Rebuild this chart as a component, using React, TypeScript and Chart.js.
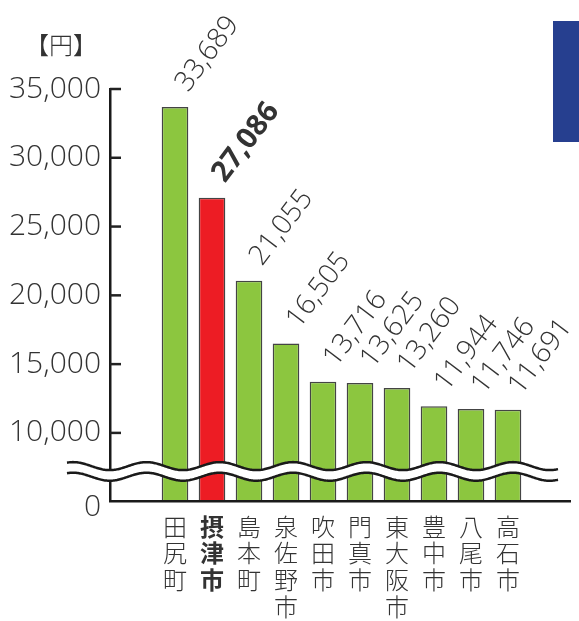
import React, { useEffect, useRef } from 'react';
import { Chart, registerables } from 'chart.js';

Chart.register(...registerables);

const categories = ['田尻町', '摂津市', '島本町', '泉佐野市', '吹田市', '門真市', '東大阪市', '豊中市', '八尾市', '高石市'];
const values = [33689, 27086, 21055, 16505, 13716, 13625, 13260, 11944, 11746, 11691];
const highlightIndex = 1;
const yAxisMin = 5050;
const yTickValues = [4580, 10000, 15000, 20000, 25000, 30000, 35000];
const yTickLabels = ['0', '10,000', '15,000', '20,000', '25,000', '30,000', '35,000'];
const unitLabel = '【円】';
const breakValue = 7200;

const GREEN = '#8cc63f';
const RED = '#ed1c24';
const TEXT = '#333333';
const LATIN = "'Open Sans', 'Noto Sans', 'Noto Sans CJK JP', sans-serif";
const CJK = "'Noto Sans CJK JP', sans-serif";

const decorPlugin = {
  id: 'decor',
  afterDatasetsDraw(chart: any) {
    const { ctx, chartArea } = chart;
    const y = chart.scales.y;
    ctx.save();
    ctx.strokeStyle = '#222';
    ctx.lineWidth = 2.5;
    yTickValues.forEach((v) => {
      if (v < yAxisMin + 1) return;
      const py = y.getPixelForValue(v);
      ctx.beginPath();
      ctx.moveTo(chartArea.left, py);
      ctx.lineTo(chartArea.left + 11, py);
      ctx.stroke();
    });
    const mid = y.getPixelForValue(breakValue);
    const x0 = chartArea.left - 43;
    const x1 = chartArea.right - 12;
    const period = 73.3;
    const crestX = chartArea.left + 183;
    const amp = 4;
    const gap = 5.3;
    const curve = (x: number, off: number) => mid + off - amp * Math.cos((2 * Math.PI * (x - crestX)) / period);
    ctx.beginPath();
    for (let x = x0; x <= x1; x += 1) {
      const py = curve(x, -gap);
      if (x === x0) ctx.moveTo(x, py);
      else ctx.lineTo(x, py);
    }
    for (let x = x1; x >= x0; x -= 1) ctx.lineTo(x, curve(x, gap));
    ctx.closePath();
    ctx.fillStyle = '#ffffff';
    ctx.fill();
    [-gap, gap].forEach((off) => {
      ctx.beginPath();
      for (let x = x0; x <= x1; x += 1) {
        const py = curve(x, off);
        if (x === x0) ctx.moveTo(x, py);
        else ctx.lineTo(x, py);
      }
      ctx.strokeStyle = '#1a1a1a';
      ctx.lineWidth = 2.5;
      ctx.stroke();
    });
    ctx.restore();
  },
  afterDraw(chart: any) {
    const { ctx, chartArea } = chart;
    const meta = chart.getDatasetMeta(0);
    ctx.save();
    ctx.fillStyle = TEXT;
    ctx.textAlign = 'left';
    ctx.textBaseline = 'alphabetic';
    meta.data.forEach((el: any, i: number) => {
      ctx.save();
      ctx.translate(el.x + 13, el.y - 14);
      ctx.rotate((-53 * Math.PI) / 180);
      ctx.font = i === highlightIndex ? `bold 29px ${LATIN}` : `300 28px ${LATIN}`;
      ctx.fillText(values[i].toLocaleString('en-US'), 0, 0);
      ctx.restore();
    });
    ctx.font = `300 24px ${CJK}`;
    ctx.textAlign = 'center';
    ctx.textBaseline = 'middle';
    ctx.fillText(unitLabel, chartArea.left - 49, chartArea.top - 44);
    ctx.fillStyle = '#263f8f';
    ctx.fillRect(553, 21, 30, 121);
    ctx.restore();
  },
};

export default function App() {
  const ref = useRef<HTMLCanvasElement | null>(null);
  useEffect(() => {
    if (!ref.current) return;
    const chart = new Chart(ref.current, {
      type: 'bar',
      data: {
        datasets: [
          {
            data: values.map((v, i) => ({ x: i, y: v })),
            backgroundColor: values.map((_, i) => (i === highlightIndex ? RED : GREEN)),
            borderColor: '#444444',
            borderWidth: 1.5,
            borderSkipped: false,
            barPercentage: 0.72,
            categoryPercentage: 1,
          },
        ],
      },
      options: {
        responsive: false,
        animation: false,
        layout: { padding: { top: 89, right: 9, left: 0, bottom: 0 } },
        plugins: { legend: { display: false }, tooltip: { enabled: false } },
        scales: {
          x: {
            type: 'linear',
            offset: false,
            min: -1.757,
            max: 10.676,
            grid: { display: false, drawTicks: false, z: 1 },
            border: { display: true, color: '#1a1a1a', width: 2.5, z: 1 },
            afterBuildTicks: (scale: any) => {
              scale.ticks = categories.map((_, i) => ({ value: i }));
            },
            afterFit: (scale: any) => {
              scale.height = 120;
            },
            ticks: {
              autoSkip: false,
              maxRotation: 0,
              minRotation: 0,
              padding: 12,
              color: TEXT,
              font: (c: any) => ({
                family: CJK,
                size: 24,
                weight: c.index === highlightIndex ? 'bold' : '300',
                lineHeight: 1.12,
              }),
              callback: (v: any) => {
                const i = Math.round(Number(v));
                return categories[i] ? categories[i].split('') : '';
              },
            },
          },
          y: {
            type: 'linear',
            min: yAxisMin,
            max: 35000,
            grid: { display: false, drawTicks: false },
            border: { display: true, color: '#1a1a1a', width: 2.5 },
            afterBuildTicks: (scale: any) => {
              scale.ticks = yTickValues.map((v) => ({ value: v }));
            },
            afterFit: (scale: any) => {
              scale.width = 110;
            },
            ticks: {
              padding: 9,
              color: TEXT,
              font: { family: LATIN, size: 30, weight: '300' },
              callback: (v: any) => {
                const idx = yTickValues.indexOf(Number(v));
                return idx >= 0 ? yTickLabels[idx] : '';
              },
            },
          },
        },
      },
      plugins: [decorPlugin],
    } as any);
    return () => chart.destroy();
  }, []);
  return (
    <div style={{ position: 'absolute', left: 0, top: 0, width: 579, height: 621 }}>
      <canvas ref={ref} width={579} height={621} style={{ display: 'block' }} />
    </div>
  );
}
